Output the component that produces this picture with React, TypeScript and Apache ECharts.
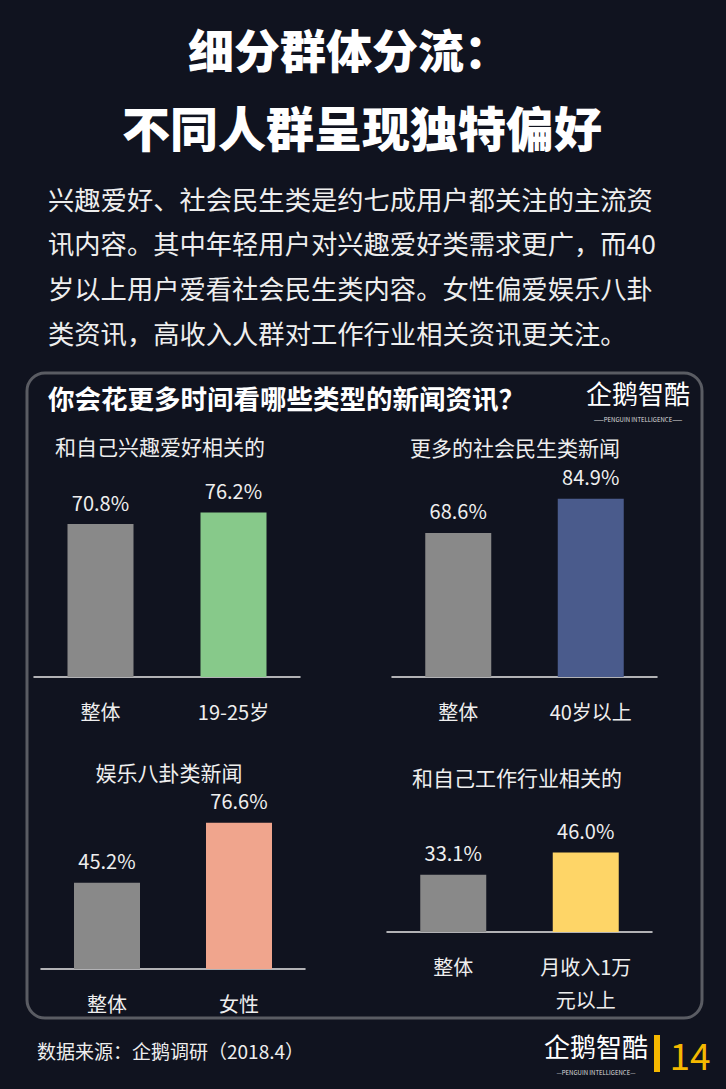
import React, { useEffect, useRef } from "react";
import * as echarts from "echarts";

const titleLines = ["细分群体分流：", "不同人群呈现独特偏好"];
const paragraphLines = [
  "兴趣爱好、社会民生类是约七成用户都关注的主流资",
  "讯内容。其中年轻用户对兴趣爱好类需求更广，而40",
  "岁以上用户爱看社会民生类内容。女性偏爱娱乐八卦",
  "类资讯，高收入人群对工作行业相关资讯更关注。",
];
const panelTitle = "你会花更多时间看哪些类型的新闻资讯？";
const chartTitles = ["和自己兴趣爱好相关的", "更多的社会民生类新闻", "娱乐八卦类新闻", "和自己工作行业相关的"];
const categories1 = ["整体", "19-25岁"];
const categories2 = ["整体", "40岁以上"];
const categories3 = ["整体", "女性"];
const categories4 = ["整体", "月收入1万\n元以上"];
const values1 = [70.8, 76.2];
const values2 = [68.6, 84.9];
const values3 = [45.2, 76.6];
const values4 = [33.1, 46.0];
const highlightColors = ["#87c98a", "#4a5b8c", "#f0a58d", "#fed567"];
const sourceText = "数据来源：企鹅调研（2018.4）";
const pageNumber = "14";

const FONT = '"Noto Sans CJK SC", "Microsoft YaHei", sans-serif';
const BG = "#10131f";
const TXT = "#eeeeee";

export default function App() {
  const ref = useRef<HTMLDivElement>(null);
  useEffect(() => {
    document.body.style.margin = "0";
    document.body.style.background = BG;
    const chart = echarts.init(ref.current!, null, { renderer: "svg" });

    const grids = [
      { left: 34, width: 266, top: 461, height: 216 },
      { left: 392, width: 265, top: 467, height: 210 },
      { left: 41, width: 264, top: 778, height: 191 },
      { left: 387, width: 265, top: 759, height: 173 },
    ];
    const cats = [categories1, categories2, categories3, categories4];
    const vals = [values1, values2, values3, values4];

    const xAxis = cats.map((c, i) => ({
      type: "category",
      gridIndex: i,
      data: c,
      axisLine: { show: true, lineStyle: { color: "#e8e8e8", width: 1.5 } },
      axisTick: { show: false },
      axisLabel: {
        color: TXT,
        fontSize: 20,
        fontFamily: FONT,
        margin: 18,
        lineHeight: 33,
        verticalAlign: "top",
      },
    }));
    const yAxis = cats.map((_, i) => ({
      type: "value",
      gridIndex: i,
      min: 0,
      max: 100,
      show: false,
      splitLine: { show: false },
    }));
    const series = vals.map((v, i) => ({
      type: "bar",
      xAxisIndex: i,
      yAxisIndex: i,
      barWidth: 66,
      data: v.map((val, j) => ({
        value: val,
        itemStyle: { color: j === 0 ? "#898989" : highlightColors[i] },
      })),
      label: {
        show: true,
        position: "top",
        distance: 12,
        color: TXT,
        fontSize: 20,
        fontFamily: FONT,
        formatter: (p: any) => p.value.toFixed(1) + "%",
      },
    }));

    const txt = (text: string, x: number, y: number, size: number, opts: any = {}) => ({
      type: "text",
      x,
      y,
      style: {
        text,
        fill: opts.fill || TXT,
        fontSize: size,
        fontWeight: opts.weight || "normal",
        fontFamily: FONT,
        textAlign: opts.align || "left",
        textVerticalAlign: "middle",
      },
      z: 10,
    });

    const graphic: any[] = [
      {
        type: "rect",
        shape: { x: 27, y: 373, width: 675, height: 645, r: 18 },
        style: { fill: "none", stroke: "#5a5c63", lineWidth: 3 },
      },
      txt(titleLines[0], 349, 48, 46, { align: "center", weight: 900, fill: "#ffffff" }),
      txt(titleLines[1], 362, 126, 48, { align: "center", weight: 900, fill: "#ffffff" }),
      ...paragraphLines.map((l, i) => txt(l, 48, 198 + i * 44.7, 26.3)),
      txt(panelTitle, 48, 397, 26.5, { weight: "bold", fill: "#ffffff" }),
      txt(chartTitles[0], 55, 446, 21),
      txt(chartTitles[1], 410, 447, 21),
      txt(chartTitles[2], 169, 772, 21, { align: "center" }),
      txt(chartTitles[3], 412, 777, 21),
      // logo in panel
      txt("企鹅智酷", 638, 392, 26, { align: "center", fill: "#ffffff" }),
      txt("——PENGUIN INTELLIGENCE——", 638, 419, 6, { align: "center", fill: "#dddddd" }),
      // footer
      txt(sourceText, 37, 1050, 19),
      txt("企鹅智酷", 596, 1045, 26, { align: "center", fill: "#ffffff" }),
      txt("—PENGUIN INTELLIGENCE—", 596, 1072, 6, { align: "center", fill: "#dddddd" }),
      {
        type: "rect",
        shape: { x: 654, y: 1035, width: 6, height: 37 },
        style: { fill: "#f5b800" },
      },
      txt(pageNumber, 690, 1054, 37, { align: "center", fill: "#f5b800" }),
    ];

    chart.setOption({
      animation: false,
      backgroundColor: BG,
      grid: grids,
      xAxis,
      yAxis,
      series,
      graphic,
    });
    return () => chart.dispose();
  }, []);
  return <div ref={ref} style={{ width: 726, height: 1089 }} />;
}
